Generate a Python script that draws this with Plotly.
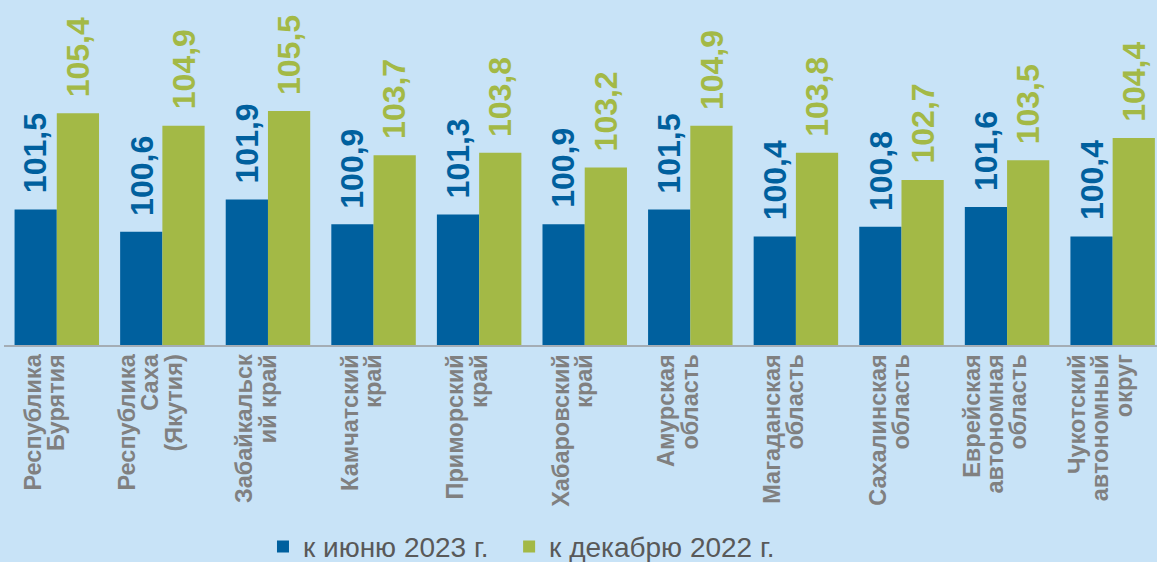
import plotly.graph_objects as go

categories = [
    ["Республика", "Бурятия"],
    ["Республика", "Саха", "(Якутия)"],
    ["Забайкальск", "ий край"],
    ["Камчатский", "край"],
    ["Приморский", "край"],
    ["Хабаровский", "край"],
    ["Амурская", "область"],
    ["Магаданская", "область"],
    ["Сахалинская", "область"],
    ["Еврейская", "автономная", "область"],
    ["Чукотский", "автономный", "округ"],
]
june_2023 = [101.5, 100.6, 101.9, 100.9, 101.3, 100.9, 101.5, 100.4, 100.8, 101.6, 100.4]
dec_2022 = [105.4, 104.9, 105.5, 103.7, 103.8, 103.2, 104.9, 103.8, 102.7, 103.5, 104.4]
series_names = ["к июню 2023 г.\u00a0\u00a0", "к декабрю 2022 г."]

BLUE = "#00609e"
GREEN = "#a3b946"
BG = "#c8e3f7"
FONT = "Liberation Sans, Arial, sans-serif"

x_idx = list(range(len(categories)))
# tick font is small (sets tight line pitch); each line is shown larger via span
tick_text = ["<br>".join(f'<span style="font-size:23.5px">{ln}</span>' for ln in lines)
             for lines in categories]

fig = go.Figure()
fig.add_trace(go.Bar(x=x_idx, y=june_2023, name=series_names[0], marker_color=BLUE,
                     marker_line_width=0))
fig.add_trace(go.Bar(x=x_idx, y=dec_2022, name=series_names[1], marker_color=GREEN,
                     marker_line_width=0))

def fmt(v):
    return f"{v:.1f}".replace(".", ",")

annotations = []
for vals, off, col in ((june_2023, -0.2, BLUE), (dec_2022, 0.2, GREEN)):
    for i, v in enumerate(vals):
        annotations.append(dict(
            x=i + off, y=v, xref="x", yref="y", text=fmt(v), showarrow=False,
            textangle=-90, xanchor="center", yanchor="bottom", yshift=14,
            font=dict(family=FONT, size=32, color=col, weight="bold"),
        ))

fig.update_layout(
    width=1157, height=562,
    margin=dict(l=4, r=0, t=0, b=217),
    paper_bgcolor=BG, plot_bgcolor=BG,
    barmode="group", bargap=0.2, bargroupgap=0,
    font=dict(family=FONT),
    showlegend=True,
    legend=dict(orientation="h", xref="container", yref="container",
                x=0.2273, xanchor="left", y=0.027, yanchor="middle",
                font=dict(family=FONT, size=28, color="#595959"),
                bgcolor="rgba(0,0,0,0)"),
    annotations=annotations,
)
fig.update_xaxes(
    range=[-0.5, 10.42], tickmode="array", tickvals=x_idx, ticktext=tick_text,
    tickangle=-90, showline=True, linecolor="#a4adb5", linewidth=2,
    showgrid=False, zeroline=False, ticks="", automargin=False,
    ticklabelstandoff=0, ticklabelshift=-10,
    tickfont=dict(family=FONT, size=18, color="#808080", weight="bold"),
)
fig.update_yaxes(range=[96, 110], visible=False, showgrid=False, zeroline=False)

fig.write_html("out.html")
